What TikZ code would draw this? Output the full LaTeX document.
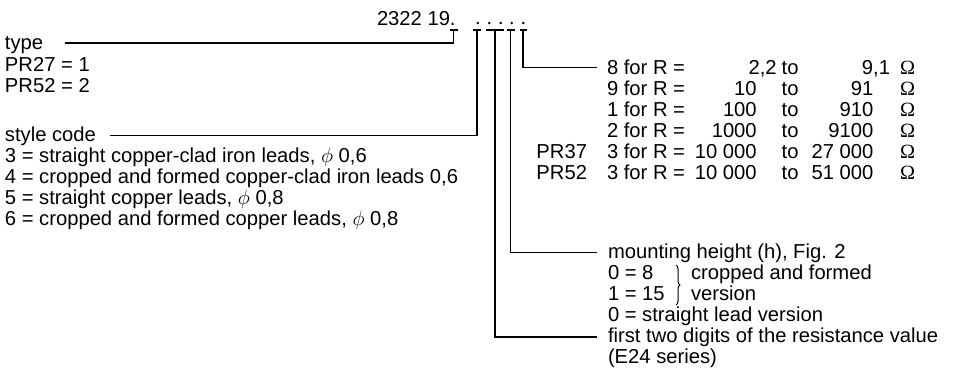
\documentclass[tikz,border=0pt]{standalone}
\usepackage{fontspec}
\setmainfont{Liberation Sans}
\newfontfamily\omfont{Liberation Serif}
\usetikzlibrary{decorations.pathreplacing}
\newcommand\dgfs{\fontsize{20.2}{24}\selectfont}
\newcommand\ohm{{\omfont Ω}}
\begin{document}
\begin{tikzpicture}[x=1pt,y=-1pt,
  every node/.style={inner sep=0pt, outer sep=0pt},
  lbl/.style={anchor=base west, font=\dgfs},
  rlbl/.style={anchor=base east, font=\dgfs},
  ln/.style={line width=1.4pt, line cap=butt, line join=miter},
  dotmark/.style={fill=black, circle, minimum size=2.8pt},
  brc/.style={line width=1pt, decorate, decoration={brace, amplitude=4pt}}
]
\useasboundingbox (0,0) rectangle (956,370);

% header
\node[lbl] (head) at (377,25) {2322 19.};
\node[dotmark] (d1) at (477.7,23) {};
\node[dotmark] (d2) at (489.3,23) {};
\node[dotmark] (d3) at (500.7,23) {};
\node[dotmark] (d4) at (511.7,23) {};
\node[dotmark] (d5) at (523.3,23) {};

% caps
\coordinate (capA) at (453.5,30);
\coordinate (capB) at (477,30);
\coordinate (capC) at (495,30);
\coordinate (capD) at (510.7,30);
\coordinate (capE) at (523,30);
\draw[ln] ([xshift=-4pt]capA) -- ([xshift=4pt]capA);
\draw[ln] ([xshift=-4pt]capB) -- ([xshift=4pt]capB);
\draw[ln] ([xshift=-9.5pt]capC) -- ([xshift=8.5pt]capC);
\draw[ln] ([xshift=-4pt]capD) -- ([xshift=4pt]capD);
\draw[ln] ([xshift=-3pt]capE) -- ([xshift=4pt]capE);

% left texts
\node[lbl] (type) at (5,49) {type};
\node[lbl] (pr27) at (5,71) {PR27 = 1};
\node[lbl] (pr52) at (5,92.5) {PR52 = 2};
\node[lbl] (style) at (5,141) {style code};
\node[lbl] (s3) at (5,162.5) {3 = straight copper-clad iron leads, $\phi$ 0,6};
\node[lbl] (s4) at (5,183.5) {4 = cropped and formed copper-clad iron leads 0,6};
\node[lbl] (s5) at (5,204.5) {5 = straight copper leads, $\phi$ 0,8};
\node[lbl] (s6) at (5,225.5) {6 = cropped and formed copper leads, $\phi$ 0,8};

% connectors
\coordinate (typeend) at (65,43);
\coordinate (styleend) at (110,135.5);
\coordinate (decend) at (597,67.5);
\coordinate (mountend) at (597,252.5);
\coordinate (twoend) at (597,337);
\draw[ln] (typeend) -- (typeend -| capA) -- (capA);
\draw[ln] (styleend) -- (styleend -| capB) -- (capB);
\draw[ln] (capC) -- (capC |- twoend) -- (twoend);
\draw[ln] (capD) -- (capD |- mountend) -- (mountend);
\draw[ln] (capE) -- (capE |- decend) -- (decend);

% right column
\node[lbl] (r1a) at (607,74) {8 for R =};
\node[rlbl] (r1b) at (776.7,74) {2,2};
\node[lbl] (r1c) at (781.7,74) {to};
\node[rlbl] (r1d) at (890,74) {9,1};
\node[lbl] (r1e) at (900,74) {\ohm};

\node[lbl] (r2a) at (607,95) {9 for R =};
\node[rlbl] (r2b) at (756.7,95) {10};
\node[lbl] (r2c) at (781.7,95) {to};
\node[rlbl] (r2d) at (873.3,95) {91};
\node[lbl] (r2e) at (900,95) {\ohm};

\node[lbl] (r3a) at (607,116) {1 for R =};
\node[rlbl] (r3b) at (756.7,116) {100};
\node[lbl] (r3c) at (781.7,116) {to};
\node[rlbl] (r3d) at (873.3,116) {910};
\node[lbl] (r3e) at (900,116) {\ohm};

\node[lbl] (r4a) at (607,137) {2 for R =};
\node[rlbl] (r4b) at (756.7,137) {1000};
\node[lbl] (r4c) at (781.7,137) {to};
\node[rlbl] (r4d) at (873.3,137) {9100};
\node[lbl] (r4e) at (900,137) {\ohm};

\node[rlbl] (r5p) at (587,158) {PR37};
\node[lbl] (r5a) at (607,158) {3 for R =};
\node[rlbl] (r5b) at (756.7,158) {10 000};
\node[lbl] (r5c) at (781.7,158) {to};
\node[rlbl] (r5d) at (873.3,158) {27 000};
\node[lbl] (r5e) at (900,158) {\ohm};

\node[rlbl] (r6p) at (587,179) {PR52};
\node[lbl] (r6a) at (607,179) {3 for R =};
\node[rlbl] (r6b) at (756.7,179) {10 000};
\node[lbl] (r6c) at (781.7,179) {to};
\node[rlbl] (r6d) at (873.3,179) {51 000};
\node[lbl] (r6e) at (900,179) {\ohm};

% lower right
\node[lbl] (m0) at (608,258.5) {mounting height (h), Fig. 2};
\node[lbl] (m1) at (608,279.5) {0 = 8};
\node[lbl] (m2) at (608,300.5) {1 = 15};
\node[lbl] (m1t) at (691,279.5) {cropped and formed};
\node[lbl] (m2t) at (691,300.5) {version};
\coordinate (brtop) at (676,265);
\coordinate (brbot) at (676,305);
\draw[brc] (brtop) -- (brbot);
\node[lbl] (m3) at (608,321.5) {0 = straight lead version};
\node[lbl] (f0) at (608,342.5) {first two digits of the resistance value};
\node[lbl] (f1) at (608,363.5) {(E24 series)};
\end{tikzpicture}
\end{document}
